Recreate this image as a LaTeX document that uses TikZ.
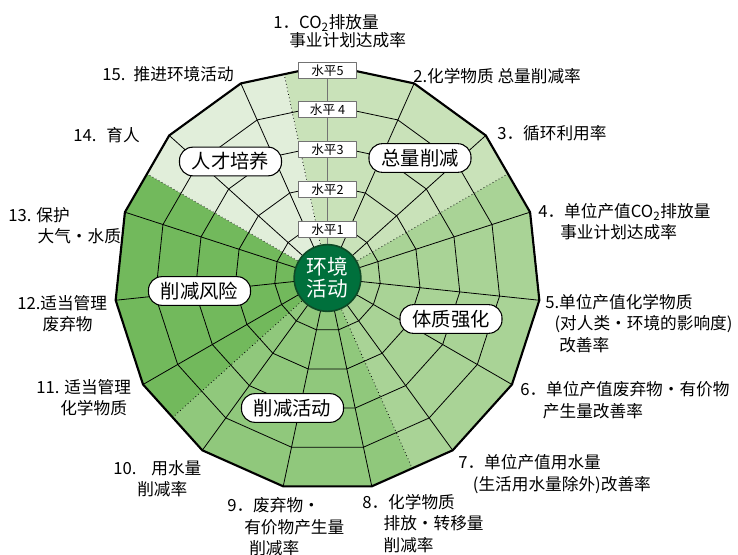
\documentclass[tikz,border=0pt]{standalone}
\usepackage{fontspec}
\setmainfont{Noto Sans CJK SC}
\usetikzlibrary{positioning}
\definecolor{hubgreen}{HTML}{00703C}
\definecolor{hubline}{HTML}{0E4A26}
\definecolor{zlgreen}{HTML}{C9E2B9}
\definecolor{tzgreen}{HTML}{A9D396}
\definecolor{hdgreen}{HTML}{90C87C}
\definecolor{fxgreen}{HTML}{72B95C}
\definecolor{rcgreen}{HTML}{E1EEDA}
\tikzset{every picture/.style={
  line join=round               % Clean polygon corners.
  }
}

\begin{document}
\begin{tikzpicture}[
      x=0.75pt, y=0.75pt,
      web/.style={line width=0.6pt},
      rim/.style={line width=1.6pt},
      spine/.style={draw=black!55, line width=1.1pt},
      divide/.style={dotted, line width=0.6pt},
      hub/.style={
        circle,
        draw=hubline,
        fill=hubgreen,
        line width=1.2pt,
        minimum size=50pt,
        inner sep=0pt,
        text=white,
        align=center,
        font=\fontsize{15.5}{16.5}\selectfont
      },
      lvl/.style={
        draw=black!55,
        fill=white,
        line width=0.5pt,
        inner sep=0pt,
        minimum width=43.5pt,
        minimum height=12pt,
        font=\fontsize{9.5}{10}\selectfont
      },
      grp/.style={
        draw,
        fill=white,
        line width=0.8pt,
        rounded corners=10pt,
        inner sep=0pt,
        minimum width=76.5pt,
        minimum height=21.5pt,
        font=\fontsize{14.5}{16}\selectfont
      },
      item/.style={
        anchor=west,
        inner sep=0pt,
        align=left,
        font=\fontsize{12.5}{16}\selectfont
      }]

      \useasboundingbox (-327.5,-277) rectangle (410.5,278);
      \def\rout{213}
      \def\rmid{208.3}

      % Fill the five groups of sectors.
      \def\zone#1#2#3#4{ \fill[#4] (0,0) -- (#1:\rmid)
        \foreach \a in {#2} { -- (\a:\rout) } -- (#3:\rmid) -- cycle; } % Helper.

      \zone{102}{90,66,42}{30}{zlgreen};
      \zone{30}{18,-6,-30,-54}{-66}{tzgreen};
      \zone{-66}{-78,-102,-126}{-138}{hdgreen};
      \zone{222}{210,186,162}{150}{fxgreen};
      \zone{150}{138,114}{102}{rcgreen};

      % Draw the web: spokes, level rings and the rim.
      \foreach \a in {66,42,...,-246}
        \draw[web] (0,0) -- (\a:\rout);
      \foreach \r in {53,93,133,173}
        \draw[web] (90:\r) \foreach \a in {66,42,...,-246} { -- (\a:\r) } -- cycle;
      \draw[rim] (90:\rout) \foreach \a in {66,42,...,-246} { -- (\a:\rout) } -- cycle;
      \foreach \a in {30,102,150,222,294}
        \draw[divide] (0,0) -- (\a:\rmid);
      \draw[spine] (0,0) -- (90:\rout);

      % Draw the hub and the level marks.
      \node[hub] (hub) at (0,0) {环境\\活动};
      \node[lvl] (lvl1) at (0,48.5) {水平1};
      \node[lvl] (lvl2) at (0,88.5) {水平2};
      \node[lvl] (lvl3) at (0,128.5) {水平3};
      \node[lvl] (lvl4) at (0,168.5) {水平 4};
      \node[lvl] (lvl5) at (0,207.5) {水平5};

      % Render the group labels.
      \node[grp] (zongliang) at (92.5,120) {总量削减};
      \node[grp] (rencai) at (-97,116.5) {人才培养};
      \node[grp] (fengxian) at (-128,-13) {削减风险};
      \node[grp] (tizhi) at (123.5,-41) {体质强化};
      \node[grp] (huodong) at (-35,-130) {削减活动};

      % Render the indicator labels.
      \node[item, font=\fontsize{12.5}{13.5}\selectfont] (ind1) at (-54.5,247)
        {1．CO\textsubscript{2}排放量\\\hspace*{12pt}事业计划达成率};
      \node[item] (ind2) at (85.5,202) {2.化学物质 总量削减率};
      \node[item] (ind3) at (169.5,145) {3．循环利用率};
      \node[item] (ind4) at (210.5,56)
        {4．单位产值CO\textsubscript{2}排放量\\\hspace*{16.5pt}事业计划达成率};
      \node[item] (ind5) at (217.5,-45.3)
        {5.单位产值化学物质\\\hspace*{7pt}(对人类・环境的影响度)\\\hspace*{10.5pt}改善率};
      \node[item] (ind6) at (192.5,-122)
        {6．单位产值废弃物・有价物\\\hspace*{17pt}产生量改善率};
      \node[item] (ind7) at (130.5,-196)
        {7．单位产值用水量\\\hspace*{11pt}(生活用水量除外)改善率};
      \node[item] (ind8) at (34.5,-245.3)
        {8．化学物质\\\hspace*{16pt}排放・转移量\\\hspace*{16pt}削减率};
      \node[item] (ind9) at (-100.5,-248.7)
        {9．废弃物・\\\hspace*{12.75pt}有价物产生量\\\hspace*{16.5pt}削减率};
      \node[item] (ind10) at (-214.5,-200.5) {10.\hspace{0.9em}用水量\\\hspace*{18pt}削减率};
      \node[item] (ind11) at (-291.5,-119.5) {11. 适当管理\\\hspace*{18pt}化学物质};
      \node[item] (ind12) at (-310.5,-36) {12.适当管理\\\hspace*{19pt}废弃物};
      \node[item] (ind13) at (-319.5,52) {13. 保护\\\hspace*{22pt}大气・水质};
      \node[item] (ind14) at (-254.5,143) {14.\hspace{0.6em}育人};
      \node[item] (ind15) at (-225.5,204) {15.\hspace{0.5em}推进环境活动};

    \end{tikzpicture}
\end{document}
